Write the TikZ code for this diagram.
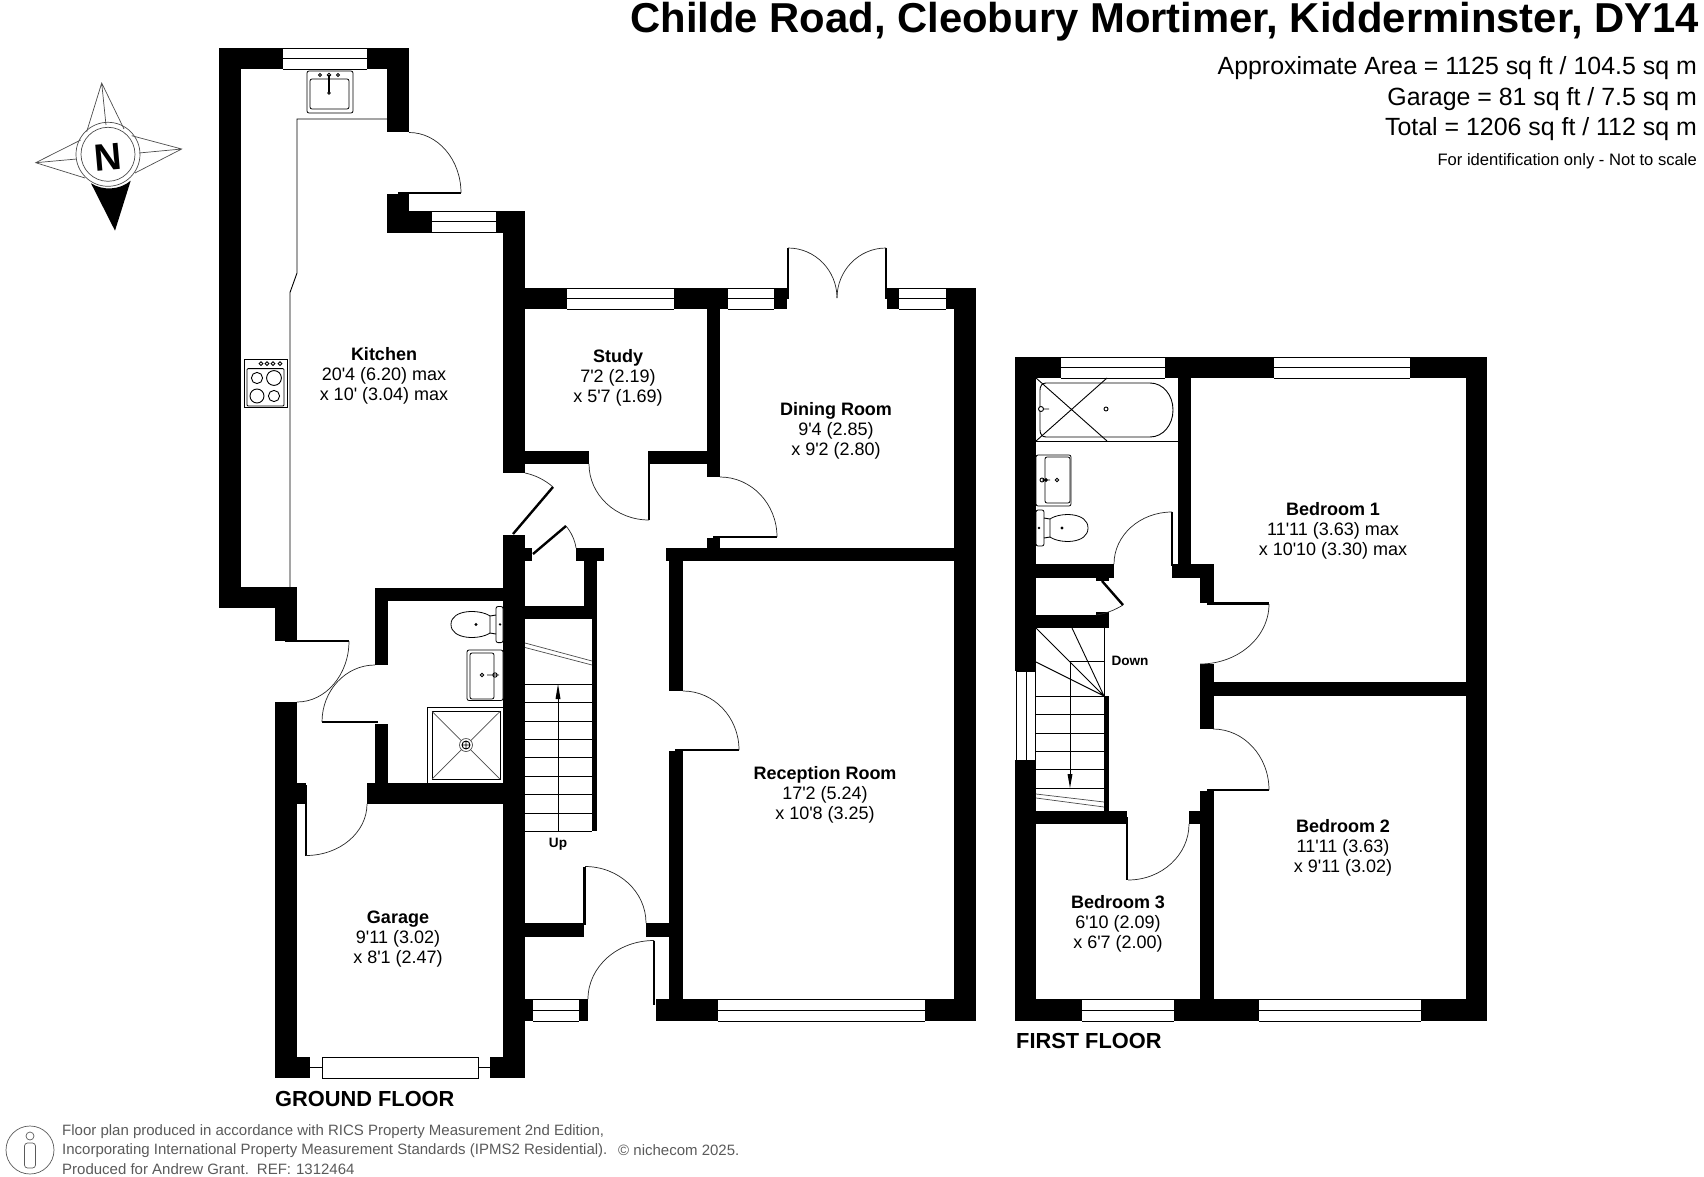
\documentclass[tikz,border=0pt]{standalone}
\usepackage{fontspec}
\usetikzlibrary{calc,arrows.meta}
\newfontfamily\planfont{Liberation Sans}
\AtBeginDocument{\planfont}
\definecolor{footgray}{HTML}{5A5A5A}
\tikzset{
  wallfill/.style={fill=black},
  thinline/.style={draw=black,line width=.9pt},
  arcline/.style={draw=black!85,line width=.7pt},
  leaf/.style={draw=black,line width=2.4pt},
  winbox/.style={fill=white,draw=black,line width=.9pt},
  fixture/.style={draw=black,line width=.8pt,fill=white},
  grayfix/.style={draw=black!70,line width=.7pt},
  roomlabel/.style={font=\fontsize{18}{20}\selectfont,align=center,inner sep=0pt},
  floorlabel/.style={font=\fontsize{21.8}{24}\selectfont\bfseries,anchor=west,inner sep=0pt},
  stairlabel/.style={font=\fontsize{13.6}{15}\selectfont\bfseries,inner sep=0pt},
  arealabel/.style={font=\fontsize{24.9}{28}\selectfont,anchor=east,inner sep=0pt},
  footlabel/.style={font=\fontsize{15}{17}\selectfont,text=footgray,anchor=west,inner sep=0pt}
}
\newcommand\wl[4]{\fill[wallfill] (#1,#2) rectangle (#3,#4);}
\newcommand\hwin[4]{\fill[white] (#1,#3) rectangle (#2,#4);
  \draw[winbox,fill=none] (#1,#3) -- (#2,#3) (#1,#4) -- (#2,#4) (#1,{(#3+#4)/2}) -- (#2,{(#3+#4)/2});}
\newcommand\qarc[3]{\draw[arcline] (#1) .. controls ($(#1)!.5523!(#2)$) and ($(#3)!.5523!(#2)$) .. (#3);}
\begin{document}
\begin{tikzpicture}[x=1pt,y=-1pt]
\useasboundingbox (0,0) rectangle (1704,1177);
% ---------- ground floor walls
\wl{219}{48}{241}{608}
\wl{219}{48}{409}{69}
\wl{387}{48}{409}{132.5}
\wl{219}{587}{297}{608}
\wl{275}{587}{297}{641}
\wl{387}{194}{409}{232.5}
\wl{387}{211}{525}{232.5}
\wl{503}{211}{525}{473}
\wl{525}{288}{976}{309}
\wl{503}{535}{525}{1078}
\wl{525}{451}{589}{464}
\wl{650}{451}{707}{464}
\wl{707}{309}{720}{477}
\wl{707}{538}{720}{548}
\wl{666}{548}{976}{561}
\wl{954}{288}{976}{1021}
\wl{669}{561}{683}{691}
\wl{669}{751}{683}{1000}
\wl{576}{548}{604}{561}
\wl{584}{561}{597}{619}
\wl{525}{606}{597}{619}
\wl{592}{619}{597}{831}
\wl{525}{548}{532}{561}
\wl{525}{923}{584}{937}
\wl{646}{923}{669}{937}
\wl{525}{999}{588}{1021}
\wl{656}{999}{976}{1021}
\wl{275}{702}{297}{1078}
\wl{275}{1057}{310}{1078}
\wl{490}{1057}{525}{1078}
\wl{367}{783}{503}{804}
\wl{297}{783}{306}{804}
\wl{375}{587.5}{503}{601}
\wl{375}{587.5}{388}{665}
\wl{375}{723.5}{388}{783}
% opening between dining stubs
\fill[white] (787,285) rectangle (887,312);
\wl{774}{299}{787}{309}
\wl{887}{299}{899}{309}
\wl{774}{288}{787}{299}
\wl{887}{288}{899}{299}
% ---------- ground floor windows
\hwin{283}{367}{48}{69}
\hwin{432}{496}{211}{232.5}
\hwin{567}{674}{288}{309}
\hwin{728}{774}{288}{309}
\hwin{899}{946}{288}{309}
\hwin{533}{579}{999}{1021}
\hwin{718}{925}{999}{1021}
\draw[winbox] (322,1057) rectangle (478,1078);
\draw[thinline] (310,1067) -- (322,1067) (478,1067) -- (490,1067);
% ---------- ground floor doors
\draw[leaf] (398,193) -- (461,193);
\qarc{409,132.5}{461,132.5}{461,193}
\draw[leaf] (513,534) -- (553,487);
\draw[arcline] (525,473) .. controls (535,475) and (545,480) .. (553,487);
\draw[leaf] (533,554) -- (566,526);
\draw[arcline] (566,526) .. controls (571,532) and (575,540) .. (576,548);
\draw[leaf] (649,451) -- (649,520);
\qarc{589,464}{589,520}{649,520}
\draw[leaf] (713,537) -- (777,537);
\qarc{720,477}{777,477}{777,537}
\draw[leaf] (788,248) -- (788,299);
\draw[leaf] (886,248) -- (886,299);
\qarc{788,248}{837,248}{837,298}
\qarc{886,248}{837,248}{837,298}
\draw[leaf] (675,750) -- (739,750);
\qarc{683,691}{739,691}{739,750}
\draw[leaf] (584.5,866.5) -- (584.5,925);
\qarc{585,866.5}{646,866.5}{646,923}
\draw[leaf] (654,940.5) -- (654,1005);
\qarc{654,940.5}{588,940.5}{588,999}
\draw[leaf] (285,641) -- (349,641);
\qarc{349,641}{349,702}{297,702}
\draw[leaf] (306,785) -- (306,855.5);
\qarc{367,804}{367,855.5}{306,855.5}
\draw[leaf] (322,722) -- (378,722);
\qarc{375,665}{322,665}{322,722}
% ---------- kitchen fittings
\draw[thinline] (387,119) -- (297,119) -- (297,273) -- (290,292.5) -- (290,587);
\draw[fixture,rounded corners=2pt] (307,71) rectangle (353,113);
\draw[fixture,rounded corners=2pt] (310,79) rectangle (349,109);
\draw[line width=1.4pt] (329,75) -- (329,92);
\draw[thinline] (329,75) circle (1.8) (329,93) circle (1.2) (320,75) circle (1.6) (338,75) circle (1.6);
\draw[fixture] (244,359) rectangle (287,407.5);
\draw[fixture,rounded corners=1pt] (247,368.6) rectangle (284,406);
\draw[thinline] (257,378) circle (5.6) (274,378) circle (7.4) (257,396) circle (7) (274,396) circle (5.6);
\draw[thinline] (261,363.6) circle (1.9) (267,363.6) circle (1.9) (273,363.6) circle (1.9) (280,363.6) circle (1.9);
% ---------- shower room fittings
\draw[fixture,rounded corners=2pt] (496,606.5) rectangle (503,642.6);
\draw[thinline] (490,616) -- (496,615) (490,633) -- (496,634);
\draw[fixture] (490,616) .. controls (480,609) and (451,609) .. (451,624.4) .. controls (451,640) and (480,640) .. (490,633) -- cycle;
\draw[thinline] (476,624.4) circle (1) (500,624.4) circle (.7);
\draw[fixture,rounded corners=2pt] (467,650) rectangle (503,700.5);
\draw[fixture,rounded corners=2pt] (470,653) rectangle (494,699);
\draw[thinline] (482,675) circle (1.8) (495,675) circle (2.2) (487,675) -- (499,675);
\draw[thinline] (427,707) rectangle (503,783);
\draw[line width=1pt] (432,711.5) rectangle (500,779);
\draw[grayfix] (432,711.5) -- (500,779) (500,711.5) -- (432,779);
\draw[grayfix,fill=white] (466,745) circle (6.5);
\draw[thinline] (466,745) circle (4) (462,745) -- (470,745) (466,741) -- (466,749);
% ---------- stairs ground
\foreach \sy in {684,702,721,739,757,776,794,813,831}{\draw[thinline] (525,\sy) -- (592,\sy);}
\draw[grayfix] (525,643) -- (592,661) (525,647.5) -- (592,665);
\draw[thinline] (558,831) -- (558,690);
\fill (558,684) -- (560.5,699) -- (555.5,699) -- cycle;
\node[stairlabel] (uplabel) at (558,844) {Up};
% ---------- first floor walls
\wl{1015}{357}{1036}{671}
\wl{1015}{760}{1036}{1021}
\wl{1015}{357}{1487}{378}
\wl{1466}{357}{1487}{1021}
\wl{1015}{999}{1487}{1021}
\wl{1178}{378}{1191}{564}
\wl{1036}{564}{1114}{578}
\wl{1172}{564}{1214}{578}
\wl{1200}{564}{1214}{603}
\wl{1200}{664}{1214}{729}
\wl{1214}{682}{1466}{696}
\wl{1200}{791}{1214}{999}
\wl{1189}{811}{1200}{824}
\wl{1036}{811}{1127}{824}
\wl{1036}{615}{1109}{628}
\wl{1096}{578}{1109}{581}
\wl{1096}{612}{1109}{615}
\wl{1104}{696}{1109}{811}
% ---------- first floor windows
\hwin{1061}{1165}{357}{378}
\hwin{1274}{1410}{357}{378}
\hwin{1082}{1174}{999}{1021}
\hwin{1259}{1421}{999}{1021}
\fill[white] (1016,671) rectangle (1036,760);
\draw[winbox,fill=none] (1016,671) -- (1016,760) (1026,671) -- (1026,760) (1035.5,671) -- (1035.5,760) (1016,671) -- (1036,671) (1016,760) -- (1036,760);
% ---------- first floor doors
\draw[leaf] (1172,512) -- (1172,566);
\qarc{1172,512}{1114,512}{1114,564}
\draw[leaf] (1207,603.5) -- (1269,603.5);
\qarc{1269,604}{1269,664}{1200,664}
\draw[leaf] (1207,790) -- (1269,790);
\qarc{1213,729}{1269,729}{1269,790}
\draw[leaf] (1127,817) -- (1127,880);
\qarc{1189,824}{1189,880}{1128,880}
\draw[leaf] (1102,581) -- (1123,605);
\draw[arcline] (1123,605) .. controls (1115,610) and (1105,614) .. (1096,615);
% ---------- bathroom fittings
\draw[thinline] (1036,441) -- (1178,441);
\draw[thinline] (1046,383) -- (1150,383) .. controls (1163,383) and (1173,395) .. (1173,410) .. controls (1173,425) and (1163,437) .. (1150,437) -- (1046,437) .. controls (1042,437) and (1040,434) .. (1040,430) -- (1040,390) .. controls (1040,386) and (1042,383) .. (1046,383) -- cycle;
\draw[thinline] (1036,378) -- (1107,441) (1036,441) -- (1107,378);
\draw[thinline] (1106,409) circle (2);
\draw[thinline,fill=white] (1041,409) circle (2.5) (1043,409) -- (1049,409);
\draw[fixture,rounded corners=2pt] (1036,455) rectangle (1071,506);
\draw[fixture,rounded corners=2pt] (1045,457) rectangle (1070,503);
\draw[thinline] (1042,480) circle (2) (1046,480) circle (1.5) (1057,480) circle (1.7) (1042,480) -- (1050,480);
\draw[fixture,rounded corners=2pt] (1036,510) rectangle (1044,546);
\draw[thinline] (1044,518) -- (1050,519) (1044,538) -- (1050,537);
\draw[fixture] (1050,519) .. controls (1060,512) and (1088,512) .. (1088,528) .. controls (1088,544) and (1060,544) .. (1050,537) -- cycle;
\draw[thinline] (1062,528) circle (1) (1039,528) circle (.7);
% ---------- stairs first
\draw[thinline] (1104,628) -- (1104,696);
\foreach \sy in {696.7,714,733,751,769,788}{\draw[thinline] (1036,\sy) -- (1104,\sy);}
\draw[thinline] (1071,661) -- (1104,661);
\draw[thinline] (1104,696) -- (1036,628) (1104,696) -- (1072,628) (1104,696) -- (1036,662);
\draw[thinline] (1070,661) -- (1070,780);
\fill (1070,788) -- (1072.5,774) -- (1067.5,774) -- cycle;
\draw[grayfix] (1036,794) -- (1104,802) (1036,798) -- (1104,807);
\node[stairlabel] (downlabel) at (1130,661) {Down};
% ---------- room labels
\node[roomlabel] (kitchen) at (384,375.6) {{\bfseries Kitchen}\\20'4 (6.20) max\\x 10' (3.04) max};
\node[roomlabel] (study) at (618,378) {{\bfseries Study}\\7'2 (2.19)\\x 5'7 (1.69)};
\node[roomlabel] (dining) at (836,431) {{\bfseries Dining Room}\\9'4 (2.85)\\x 9'2 (2.80)};
\node[roomlabel] (reception) at (825,795) {{\bfseries Reception Room}\\17'2 (5.24)\\x 10'8 (3.25)};
\node[roomlabel] (garage) at (398,939) {{\bfseries Garage}\\9'11 (3.02)\\x 8'1 (2.47)};
\node[roomlabel] (bed1) at (1333,531) {{\bfseries Bedroom 1}\\11'11 (3.63) max\\x 10'10 (3.30) max};
\node[roomlabel] (bed2) at (1343,848) {{\bfseries Bedroom 2}\\11'11 (3.63)\\x 9'11 (3.02)};
\node[roomlabel] (bed3) at (1118,924) {{\bfseries Bedroom 3}\\6'10 (2.09)\\x 6'7 (2.00)};
\node[floorlabel] (groundfloor) at (275,1098.6) {GROUND FLOOR};
\node[floorlabel] (firstfloor) at (1016,1040.5) {FIRST FLOOR};
% ---------- header
\node[font=\fontsize{41.8}{46}\selectfont\bfseries,anchor=east,inner sep=0pt] (title) at (1699,21.5) {Childe Road, Cleobury Mortimer, Kidderminster, DY14};
\node[arealabel] (area) at (1697,68.5) {Approximate Area = 1125 sq ft / 104.5 sq m};
\node[arealabel] (garagearea) at (1697,99.5) {Garage = 81 sq ft / 7.5 sq m};
\node[arealabel] (totalarea) at (1697,129.5) {Total = 1206 sq ft / 112 sq m};
\node[font=\fontsize{16.6}{19}\selectfont,anchor=east,inner sep=0pt] (scalenote) at (1697,161) {For identification only - Not to scale};
% ---------- compass
\draw[grayfix] (86.7,131.7) -- (101.7,83) -- (124,129) (101.7,83) -- (106,125);
\draw[grayfix] (131.7,135.7) -- (181.7,149) -- (135,173) (181.7,149) -- (139,153);
\draw[grayfix] (80.7,140) -- (35.7,162.7) -- (85,178) (35.7,162.7) -- (76.7,159);
\fill (91,183.3) .. controls (103,191) and (120,190) .. (130.7,180.7) -- (115,230.7) -- cycle;
\draw[grayfix] (108,154.3) circle (32) (108,154.3) circle (27);
\node[font=\fontsize{38}{40}\selectfont\bfseries,rotate=5,inner sep=0pt] (northmark) at (108.5,157.5) {N};
% ---------- footer
\draw[footgray,line width=.7pt] (30,1150) circle (24);
\draw[footgray,line width=.7pt] (30,1136) circle (4);
\draw[footgray,line width=.7pt,rounded corners=3pt] (24.5,1143) rectangle (35.5,1168);
\node[footlabel] (foot1) at (62,1132) {Floor plan produced in accordance with RICS Property Measurement 2nd Edition,};
\node[footlabel] (foot2) at (62,1150.5) {Incorporating International Property Measurement Standards (IPMS2 Residential).};
\node[footlabel] (foot3) at (62,1169) {Produced for Andrew Grant.\hspace{8pt}REF:\hspace{5pt}1312464};
\node[footlabel] (foot4) at (618,1150.5) {\textcopyright\ nichecom 2025.};
\end{tikzpicture}
\end{document}
